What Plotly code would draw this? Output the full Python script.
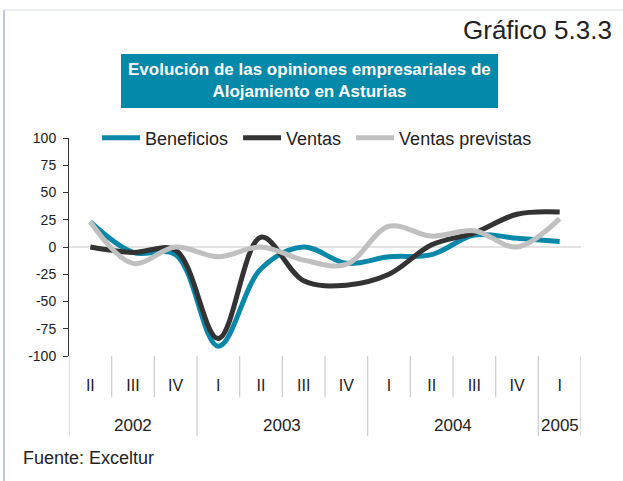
import plotly.graph_objects as go

# ---- data ----
quarters = ['II', 'III', 'IV', 'I', 'II', 'III', 'IV', 'I', 'II', 'III', 'IV', 'I']
years = ['2002', '2002', '2002', '2003', '2003', '2003', '2003',
         '2004', '2004', '2004', '2004', '2005']
beneficios = [23, -5, -7, -91, -20, 0, -15, -9, -7, 11, 8, 5]
ventas = [0, -5, -3, -84, 9, -31, -35, -25, 2, 13, 30, 32]
ventas_previstas = [23, -15, 0, -9, 0, -12, -16, 19, 10, 15, 0, 26]
y_ticks = [100, 75, 50, 25, 0, -25, -50, -75, -100]

# ---- layout geometry (pixels) ----
W, H = 623, 481
PL, PR, PT, PB = 69, 581, 138, 356
FONT = "Liberation Sans, Arial, sans-serif"


def px(xp):
    return (xp - PL) / (PR - PL)


def py(yp):
    return (PB - yp) / (PB - PT)


idx = list(range(len(quarters)))

fig = go.Figure()
series = [
    ("Beneficios", beneficios, "#0A88AA"),
    ("Ventas", ventas, "#333333"),
    ("Ventas previstas", ventas_previstas, "#C0C0C0"),
]
for name, vals, col in series:
    fig.add_trace(go.Scatter(
        x=idx, y=vals, name=name + "\u00a0", mode="lines",
        line=dict(color=col, width=5, shape="spline", smoothing=1.0),
        hoverinfo="skip",
    ))

shapes = []
# zero line
shapes.append(dict(type="line", xref="paper", yref="y", x0=0, x1=1, y0=0, y1=0,
                   line=dict(color="#C8C8C8", width=1.2), layer="below"))
# category boundaries (quarter level) and year dividers
n = len(quarters)
for b in range(n + 1):
    xb = b - 0.5
    is_year = b == 0 or b == n or years[b] != years[b - 1]
    shapes.append(dict(type="line", xref="x", yref="paper", x0=xb, x1=xb,
                       y0=0, y1=py(436) if is_year else py(397),
                       line=dict(color="#CFCFCF", width=1.3)))
# frame
shapes.append(dict(type="line", xref="paper", yref="paper", x0=px(4), x1=px(640),
                   y0=py(10), y1=py(10), line=dict(color="#E4E8EE", width=1.5)))
shapes.append(dict(type="line", xref="paper", yref="paper", x0=px(4), x1=px(4),
                   y0=py(10), y1=py(500), line=dict(color="#A9BBD3", width=1.5)))
# title box
shapes.append(dict(type="rect", xref="paper", yref="paper", x0=px(121), x1=px(498),
                   y0=py(108), y1=py(54), fillcolor="#0489AA", line=dict(width=0)))

annotations = []
annotations.append(dict(xref="paper", yref="paper", x=px(614), y=py(30),
                        xanchor="right", yanchor="middle", showarrow=False,
                        text="Gráfico 5.3.3",
                        font=dict(family=FONT, size=26, color="#222222")))
annotations.append(dict(xref="paper", yref="paper", x=px(309.5), y=py(81),
                        xanchor="center", yanchor="middle", showarrow=False, align="center",
                        text="<b>Evolución de las opiniones empresariales de<br>Alojamiento en Asturias</b>",
                        font=dict(family=FONT, size=17, color="white")))
annotations.append(dict(xref="paper", yref="paper", x=px(21), y=py(458),
                        xanchor="left", yanchor="middle", showarrow=False,
                        text="Fuente: Exceltur",
                        font=dict(family=FONT, size=18, color="#222222")))
# year labels, centred on each year group
groups = []
for i, yv in enumerate(years):
    if groups and groups[-1][0] == yv:
        groups[-1][2] = i
    else:
        groups.append([yv, i, i])
for yv, a, b in groups:
    annotations.append(dict(xref="x", yref="paper", x=(a + b) / 2, y=py(425),
                            xanchor="center", yanchor="middle", showarrow=False,
                            text=yv, font=dict(family=FONT, size=17, color="#222222")))

fig.update_layout(
    width=W, height=H,
    margin=dict(l=PL, r=W - PR, t=PT, b=H - PB, autoexpand=False),
    paper_bgcolor="white", plot_bgcolor="white",
    font=dict(family=FONT, color="#222222"),
    showlegend=True,
    legend=dict(orientation="h", x=px(97), xanchor="left", y=py(138), yanchor="middle",
                font=dict(family=FONT, size=18, color="#222222"),
                bgcolor="rgba(0,0,0,0)", itemwidth=38, tracegroupgap=0),
    xaxis=dict(range=[-0.5, n - 0.5], tickmode="array", tickvals=idx, ticktext=quarters,
               ticks="", showgrid=False, zeroline=False, showline=False,
               tickfont=dict(family=FONT, size=16, color="#222222"),
               ticklabelstandoff=18, fixedrange=True),
    yaxis=dict(range=[-100, 100], tickmode="array", tickvals=y_ticks,
               ticktext=[str(v) for v in y_ticks],
               ticks="outside", ticklen=5, tickcolor="#333333", tickwidth=1,
               showline=True, linecolor="#333333", linewidth=1,
               showgrid=False, zeroline=False,
               tickfont=dict(family=FONT, size=14, color="#222222"),
               ticklabelstandoff=4, fixedrange=True),
    shapes=shapes, annotations=annotations,
)

fig.write_html("out.html", config={"displayModeBar": False},
               post_script="document.body.style.margin='0';document.body.style.padding='0';")
